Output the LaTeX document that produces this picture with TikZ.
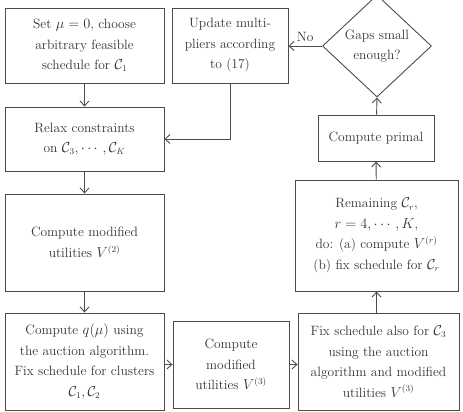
\documentclass[tikz,border=0pt]{standalone}
\usepackage{amsmath}
\usetikzlibrary{shapes.geometric,arrows.meta}
\begin{document}
\begin{tikzpicture}[x=1pt,y=-1pt,
  every node/.style={font=\fontsize{13.5}{20.5}\selectfont, text=black!80},
  box/.style={draw=black!70, line width=0.9pt, rectangle, align=center, inner sep=0pt},
  dia/.style={draw=black!70, line width=0.9pt, diamond, align=center, inner sep=0pt},
  arr/.style={draw=black!70, line width=0.9pt, -{Straight Barb[length=5pt,width=9pt]}}]
\useasboundingbox (0,0) rectangle (463,412);
\node[box, minimum width=159pt, minimum height=75pt] (set) at (84.5,45.5)
  {Set $\mu=0$, choose\\arbitrary feasible\\schedule for $\mathcal{C}_1$};
\node[box, minimum width=116pt, minimum height=75pt] (upd) at (230,45.5)
  {Update multi-\\pliers according\\to (17)};
\node[dia, minimum width=109pt, minimum height=102pt] (gap) at (377,46)
  {Gaps small\\enough?};
\node[box, minimum width=159pt, minimum height=64pt] (rel) at (84.5,139)
  {Relax constraints\\on $\mathcal{C}_3,\cdots,\mathcal{C}_K$};
\node[box, minimum width=159pt, minimum height=97pt] (v2) at (84.5,242.5)
  {Compute modified\\utilities $V^{(2)}$};
\node[box, minimum width=159pt, minimum height=97pt] (q) at (84.5,361.5)
  {Compute $q(\mu)$ using\\the auction algorithm.\\Fix schedule for clusters\\$\mathcal{C}_1,\mathcal{C}_2$};
\node[box, minimum width=116pt, minimum height=87pt] (v3) at (231,364.5)
  {Compute\\modified\\utilities $V^{(3)}$};
\node[box, minimum width=161pt, minimum height=97pt] (fix) at (378.5,361.5)
  {Fix schedule also for $\mathcal{C}_3$\\using the auction\\algorithm and modified\\utilities $V^{(3)}$};
\node[box, minimum width=163pt, minimum height=111pt] (rem) at (376.5,235.5)
  {Remaining $\mathcal{C}_r$,\\$r=4,\cdots,K$,\\do: (a) compute $V^{(r)}$\\(b) fix schedule for $\mathcal{C}_r$};
\node[box, minimum width=116pt, minimum height=46pt] (pri) at (376,138)
  {Compute primal};
\draw[arr] (set) -- (rel);
\draw[arr] (upd.south) |- (rel.east);
\draw[arr] (rel) -- (v2);
\draw[arr] (v2) -- (q);
\draw[arr] (q.east |- v3.west) -- (v3.west);
\draw[arr] (v3.east) -- (fix.west |- v3.east);
\draw[arr] (fix.north -| rem.north) -- (rem.south);
\draw[arr] (rem) -- (pri);
\draw[arr] (pri) -- (gap.south);
\draw[arr] (gap.west) -- node[above, yshift=1pt] {No} (upd.east |- gap.west);
\end{tikzpicture}
\end{document}
